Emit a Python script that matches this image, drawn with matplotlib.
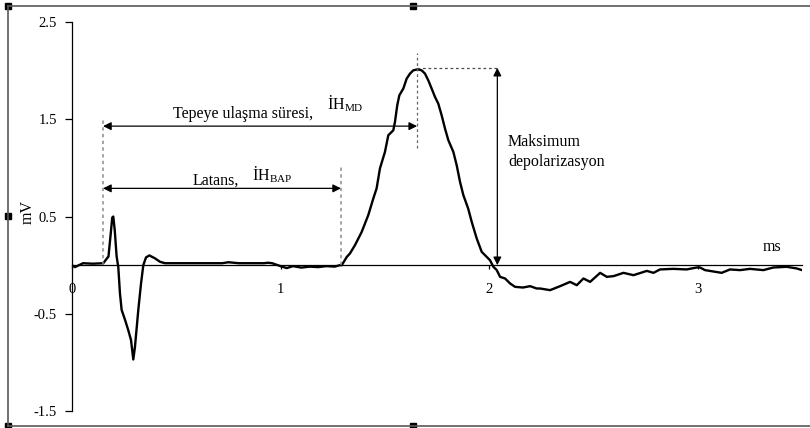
import matplotlib.pyplot as plt
from matplotlib.patches import Rectangle
from matplotlib.lines import Line2D

plt.rcParams['font.family'] = ['Liberation Serif', 'DejaVu Serif']
plt.rcParams['mathtext.fontset'] = 'custom'
plt.rcParams['mathtext.rm'] = 'Liberation Serif'

# time (ms) and potential (mV) of the recorded trace
t = [0.0, 0.014, 0.053, 0.10, 0.15, 0.175, 0.186, 0.193, 0.198, 0.205, 0.214, 0.222,
     0.230, 0.238, 0.254, 0.270, 0.283, 0.294, 0.302, 0.318, 0.331, 0.342, 0.355,
     0.371, 0.398, 0.422, 0.446, 0.518, 0.60, 0.72, 0.75, 0.80, 0.92, 0.94, 0.96,
     1.00, 1.03, 1.06, 1.10, 1.14, 1.18, 1.22, 1.26, 1.285, 1.294,
     1.318, 1.333, 1.357, 1.389, 1.421, 1.445, 1.461, 1.477, 1.501, 1.517, 1.541,
     1.549, 1.560, 1.570, 1.589, 1.605, 1.621, 1.637, 1.658, 1.677, 1.693, 1.709,
     1.725, 1.741, 1.757, 1.773, 1.789, 1.805, 1.829, 1.845, 1.861, 1.877, 1.900,
     1.917, 1.941, 1.965, 1.989, 2.005, 2.021, 2.037, 2.053, 2.077, 2.101, 2.125,
     2.163, 2.197, 2.229, 2.245, 2.293, 2.341, 2.389, 2.421, 2.453, 2.485, 2.533,
     2.565, 2.597, 2.645, 2.693, 2.757, 2.789, 2.820, 2.884, 2.948, 2.996, 3.012,
     3.036, 3.116, 3.156, 3.204, 3.252, 3.316, 3.364, 3.428, 3.476, 3.500]
mv = [0.0, -0.02, 0.02, 0.015, 0.02, 0.09, 0.33, 0.49, 0.50, 0.36, 0.09, -0.02,
      -0.29, -0.46, -0.56, -0.67, -0.77, -0.97, -0.84, -0.46, -0.19, 0.0, 0.08,
      0.10, 0.07, 0.035, 0.02, 0.02, 0.02, 0.02, 0.03, 0.02, 0.02, 0.025, 0.02,
      -0.01, -0.03, -0.01, -0.025, -0.015, -0.02, -0.01, -0.015, 0.0, 0.0,
      0.085, 0.12, 0.205, 0.34, 0.515, 0.685, 0.79, 0.995, 1.165, 1.336, 1.387,
      1.473, 1.645, 1.747, 1.816, 1.918, 1.97, 2.004, 2.014, 2.004, 1.97, 1.90,
      1.816, 1.73, 1.66, 1.54, 1.405, 1.285, 1.165, 1.028, 0.857, 0.72, 0.583,
      0.446, 0.275, 0.137, 0.085, 0.05, -0.017, -0.05, -0.12, -0.137, -0.188, -0.223,
      -0.23, -0.216, -0.24, -0.24, -0.257, -0.216, -0.172, -0.206, -0.137, -0.172, -0.079,
      -0.12, -0.113, -0.079, -0.103, -0.059, -0.079, -0.044, -0.038, -0.044, -0.024, -0.024,
      -0.051, -0.079, -0.044, -0.051, -0.038, -0.051, -0.024, -0.017, -0.034, -0.05]

# marker positions
t_start = 0.149      # stimulus
t_bap = 1.29         # onset of response
t_peak = 1.655       # maximum depolarisation
v_peak = 2.03
y_md_arrow = 1.43
y_bap_arrow = 0.79
x_max_arrow = 2.04

fig = plt.figure(figsize=(8.1, 4.28), dpi=100)
ax = fig.add_axes([72 / 810, 17 / 428, 729.75 / 810, 388.9 / 428])

ax.plot(t, mv, color='black', lw=1.7, solid_joinstyle='round')

ax.set_xlim(0, 3.5)
ax.set_ylim(-1.5, 2.5)
ax.spines['top'].set_visible(False)
ax.spines['right'].set_visible(False)
ax.spines['bottom'].set_position(('data', 0))
ax.spines['left'].set_linewidth(0.9)
ax.spines['bottom'].set_linewidth(0.9)
ax.set_yticks([-1.5, -0.5, 0.5, 1.5, 2.5])
ax.set_yticklabels(['-1.5', '-0.5', '0.5', '1.5', '2.5'])
ax.set_xticks([0, 1, 2, 3])
ax.tick_params(axis='y', direction='out', length=5, width=0.9, pad=6, labelsize=10.5)
ax.tick_params(axis='x', direction='out', length=3, width=0.9, pad=10, labelsize=10.5)
ax.patch.set_alpha(0)

# dashed guides
dash = (0, (2.2, 2.2))
ax.plot([t_start, t_start], [0, 1.51], color='0.55', lw=1.1, ls=dash)
ax.plot([t_bap, t_bap], [0, 1.03], color='0.55', lw=1.1, ls=dash)
ax.plot([t_peak, t_peak], [1.2, 2.18], color='0.4', lw=0.9, ls=dash)
ax.plot([t_peak, x_max_arrow], [v_peak, v_peak], color='0.3', lw=0.9, ls=dash)

arrow = dict(arrowstyle='<|-|>', color='black', lw=0.9,
             mutation_scale=12, shrinkA=0, shrinkB=0)
ax.annotate('', xy=(t_start, y_md_arrow), xytext=(t_peak, y_md_arrow), arrowprops=arrow)
ax.annotate('', xy=(t_start, y_bap_arrow), xytext=(t_bap, y_bap_arrow), arrowprops=arrow)
ax.annotate('', xy=(x_max_arrow, v_peak), xytext=(x_max_arrow, 0), arrowprops=arrow)

fs = 11.5
ax.text(0.822, 1.55, 'Tepeye ulaşma süresi,', ha='center', va='center', fontsize=fs)
ax.text(1.223, 1.665, r'İH$_{\rm MD}$', ha='left', va='center', fontsize=fs)
ax.text(0.69, 0.87, 'Latans,', ha='center', va='center', fontsize=fs)
ax.text(0.863, 0.935, r'İH$_{\rm BAP}$', ha='left', va='center', fontsize=fs)
ax.text(2.091, 1.264, 'Maksimum', ha='left', va='center', fontsize=fs)
ax.text(2.091, 1.059, 'depolarizasyon', ha='left', va='center', fontsize=fs)
ax.text(3.357, 0.185, 'ms', ha='center', va='center', fontsize=fs)
fig.text(28 / 810, 1 - 212 / 428, 'mV', rotation=90, ha='center', va='center', fontsize=fs)

# frame and handles around the picture
frame = dict(color='0.35', lw=1.2, transform=fig.transFigure)
fig.add_artist(Line2D([8 / 810, 1], [1 - 6 / 428, 1 - 6 / 428], **frame))
fig.add_artist(Line2D([8 / 810, 1], [1 - 426 / 428, 1 - 426 / 428], **frame))
fig.add_artist(Line2D([8 / 810, 8 / 810], [1 - 426 / 428, 1 - 6 / 428], **frame))
for hx, hy in [(8, 6), (8, 216), (8, 426), (413, 6), (413, 426)]:
    fig.add_artist(Rectangle(((hx - 3) / 810, 1 - (hy + 3) / 428), 6 / 810, 6 / 428,
                             color='black', transform=fig.transFigure))

fig.savefig('out.png', dpi=100)
